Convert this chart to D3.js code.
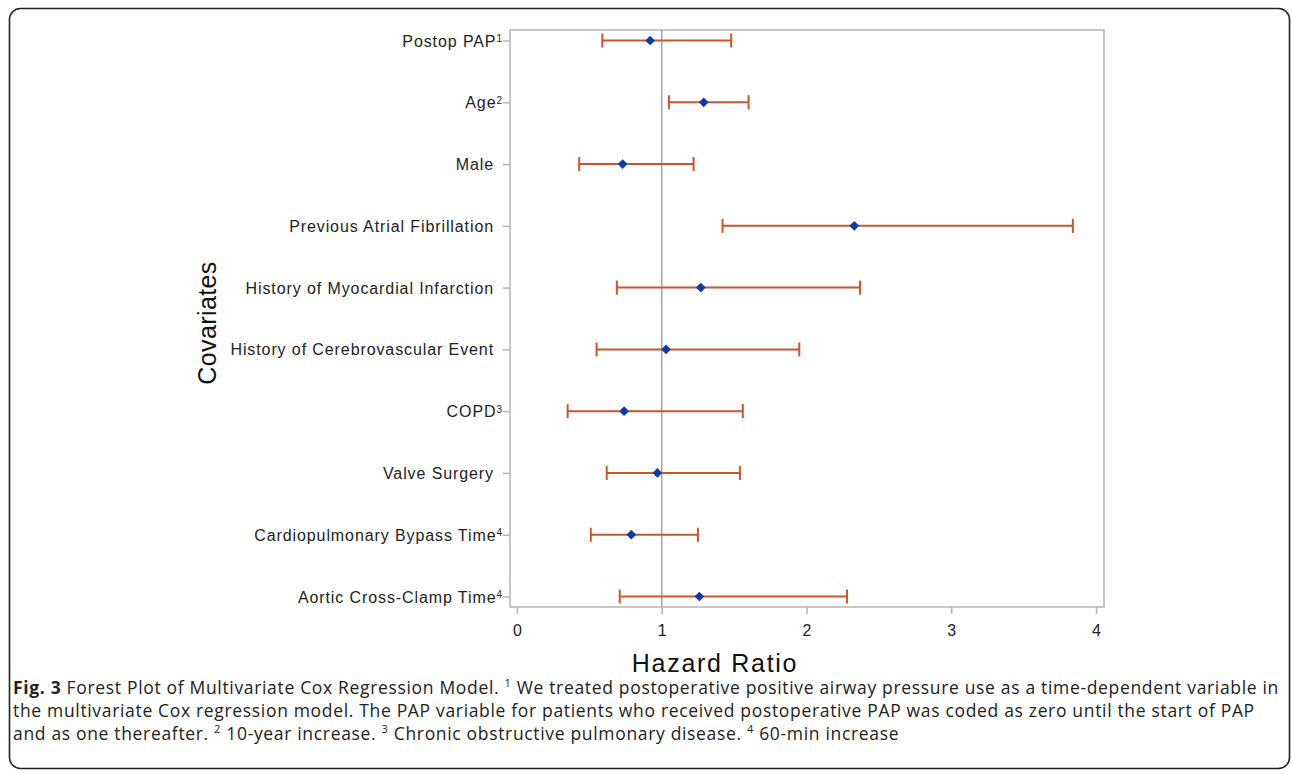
<!DOCTYPE html>
<html>
<head>
<meta charset="utf-8">
<script src="https://cdnjs.cloudflare.com/ajax/libs/d3/7.8.5/d3.min.js"></script>
<style>
	body { margin: 0; background: #fff; }
	.label { font-family: "Liberation Sans", Arial, sans-serif; font-size: 16px; letter-spacing: 0.9px; fill: #222; }
	.tickLabel { font-family: "Liberation Sans", Arial, sans-serif; font-size: 16px; fill: #222; }
	.axisTitle { font-family: "Liberation Sans", Arial, sans-serif; font-size: 25px; fill: #111; }
	.caption { font-family: "Open Sans", sans-serif; font-size: 17.5px; fill: #222; }
</style>
</head>
<body>
<div id="chart"></div>
<script>

// covariates, top to bottom
var covariates = ["Postop PAP", "Age", "Male", "Previous Atrial Fibrillation", "History of Myocardial Infarction",
	"History of Cerebrovascular Event", "COPD", "Valve Surgery", "Cardiopulmonary Bypass Time", "Aortic Cross-Clamp Time"];
var footnotes = ["1", "2", "", "", "", "", "3", "", "4", "4"];

// hazard ratio + 95% CI
var hazardRatio = [0.92, 1.29, 0.73, 2.33, 1.27, 1.03, 0.74, 0.97, 0.79, 1.26];
var lowerCI     = [0.59, 1.05, 0.43, 1.42, 0.69, 0.55, 0.35, 0.62, 0.51, 0.71];
var upperCI     = [1.48, 1.60, 1.22, 3.84, 2.37, 1.95, 1.56, 1.54, 1.25, 2.28];

var xTicks = [0, 1, 2, 3, 4];
var refValue = 1;

var captionLines = [
	[{t: "Fig. 3", b: true}, {t: " Forest Plot of Multivariate Cox Regression Model. "}, {t: "1", sup: true}, {t: " We treated postoperative positive airway pressure use as a time-dependent variable in"}],
	[{t: "the multivariate Cox regression model. The PAP variable for patients who received postoperative PAP was coded as zero until the start of PAP"}],
	[{t: "and as one thereafter. "}, {t: "2", sup: true}, {t: " 10-year increase. "}, {t: "3", sup: true}, {t: " Chronic obstructive pulmonary disease. "}, {t: "4", sup: true}, {t: " 60-min increase"}]
];

var width = 1292, height = 774;

var data = covariates.map(function(c, i) {
	return {name: c, note: footnotes[i], hr: hazardRatio[i], lo: lowerCI[i], hi: upperCI[i]};
});

var svg = d3.select("#chart").append("svg")
	.attr("width", width)
	.attr("height", height);

// card border
svg.append("rect")
	.attr("x", 9.5).attr("y", 8.5)
	.attr("width", 1280).attr("height", 760)
	.attr("rx", 11).attr("ry", 11)
	.attr("fill", "none")
	.attr("stroke", "#222")
	.attr("stroke-width", 1.6);

var plot = {left: 510, right: 1104, top: 30, bottom: 607};

var x = d3.scaleLinear()
	.domain([-0.048, 4.055])
	.range([plot.left, plot.right]);

var y = d3.scalePoint()
	.domain(covariates)
	.range([plot.top, plot.bottom])
	.padding(0.17);

// frame
svg.append("rect")
	.attr("x", plot.left).attr("y", plot.top)
	.attr("width", plot.right - plot.left).attr("height", plot.bottom - plot.top)
	.attr("fill", "none")
	.attr("stroke", "#b4b4b8")
	.attr("stroke-width", 1.5);

// reference line at HR = 1
svg.append("line")
	.attr("x1", x(refValue)).attr("x2", x(refValue))
	.attr("y1", plot.top).attr("y2", plot.bottom)
	.attr("stroke", "#a4a4a8")
	.attr("stroke-width", 1.5);

// x axis
var xAxis = svg.append("g")
	.attr("transform", "translate(0," + plot.bottom + ")")
	.call(d3.axisBottom(x).tickValues(xTicks).tickSize(7).tickPadding(11).tickFormat(d3.format("d")));
xAxis.select(".domain").remove();
xAxis.selectAll("line").attr("stroke", "#b4b4b8").attr("stroke-width", 1.5);
xAxis.selectAll("text").attr("class", "tickLabel").attr("font-size", null).attr("font-family", null).attr("fill", null);

// y axis
var yAxis = svg.append("g")
	.attr("transform", "translate(" + plot.left + ",0)")
	.call(d3.axisLeft(y).tickSize(7).tickPadding(9).tickFormat(""));
yAxis.select(".domain").remove();
yAxis.selectAll("line").attr("stroke", "#b4b4b8").attr("stroke-width", 1.5);

var yLabels = yAxis.selectAll(".tick text")
	.attr("class", "label")
	.attr("font-size", null).attr("font-family", null).attr("fill", null)
	.attr("dy", ".35em");
yLabels.each(function(d, i) {
	var t = d3.select(this);
	var note = footnotes[covariates.indexOf(d)];
	t.append("tspan").text(d);
	if (note) {
		t.attr("x", -8);
		t.append("tspan").attr("dy", "-0.45em").style("font-size", "10px").style("letter-spacing", "0px").text(note);
	}
});

// error bars
var cap = 7;
var rows = svg.append("g").selectAll("g")
	.data(data)
	.enter().append("g")
	.attr("transform", function(d) { return "translate(0," + y(d.name) + ")"; });

rows.append("line")
	.attr("x1", function(d) { return x(d.lo); })
	.attr("x2", function(d) { return x(d.hi); })
	.attr("stroke", "#c9562d").attr("stroke-width", 2);
rows.append("line")
	.attr("x1", function(d) { return x(d.lo); })
	.attr("x2", function(d) { return x(d.lo); })
	.attr("y1", -cap).attr("y2", cap)
	.attr("stroke", "#c9562d").attr("stroke-width", 2);
rows.append("line")
	.attr("x1", function(d) { return x(d.hi); })
	.attr("x2", function(d) { return x(d.hi); })
	.attr("y1", -cap).attr("y2", cap)
	.attr("stroke", "#c9562d").attr("stroke-width", 2);

rows.append("path")
	.attr("transform", function(d) { return "translate(" + x(d.hr) + ",0)"; })
	.attr("d", d3.symbol().type(d3.symbolDiamond2).size(60))
	.attr("fill", "#0a3ca8");

// axis titles
svg.append("text")
	.attr("class", "axisTitle")
	.attr("text-anchor", "middle")
	.style("letter-spacing", "0.4px")
	.attr("transform", "translate(216,323) rotate(-90)")
	.text("Covariates");

svg.append("text")
	.attr("class", "axisTitle")
	.attr("text-anchor", "middle")
	.style("letter-spacing", "1.7px")
	.attr("x", 715).attr("y", 672)
	.text("Hazard Ratio");

// caption
var caption = svg.append("g");
var captionTexts = [];
captionLines.forEach(function(line, i) {
	var t = caption.append("text")
		.attr("class", "caption")
		.attr("x", 13)
		.attr("y", 694 + i * 22.8);
	line.forEach(function(seg, j) {
		var s = t.append("tspan").text(seg.t);
		if (seg.b) s.style("font-weight", "bold");
		if (seg.sup) {
			s.style("font-size", "11px").attr("dy", "-7");
		} else if (j > 0 && line[j - 1].sup) {
			// come back down after superscript
			s.attr("dy", "7");
		}
	});
	captionTexts.push(t);
});

// first caption line runs to the right edge of the card, spread letters to match
var firstNode = captionTexts[0].node();
var firstLen = firstNode.getComputedTextLength();
var nChars = firstNode.textContent.length;
var ls = Math.max(0, (1266 - firstLen) / nChars);
caption.selectAll("text").style("letter-spacing", ls + "px");

</script>
</body>
</html>
